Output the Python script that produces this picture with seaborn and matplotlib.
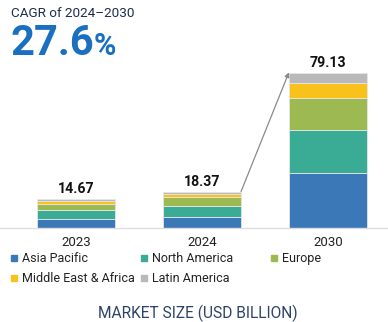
import matplotlib
matplotlib.use("Agg")
import matplotlib.pyplot as plt
from matplotlib.lines import Line2D
import seaborn as sns
import numpy as np
import pandas as pd

years = ["2023", "2024", "2030"]
totals = [14.67, 18.37, 79.13]
regions = ["Asia Pacific", "North America", "Europe", "Middle East & Africa", "Latin America"]
asia_pacific = [4.50, 5.75, 28.30]
north_america = [4.50, 5.55, 22.00]
europe = [3.25, 4.50, 16.40]
middle_east_africa = [1.40, 1.50, 7.30]
latin_america = [1.02, 1.07, 5.13]
colors = ["#3a78b8", "#3aab94", "#9dba52", "#f9c11b", "#b9b9b9"]

sns.set_theme(style="white")
plt.rcParams["font.family"] = ["Roboto", "DejaVu Sans"]

series = [asia_pacific, north_america, europe, middle_east_africa, latin_america]

fig = plt.figure(figsize=(3.88, 3.22), dpi=100)
ax = fig.add_axes([0, 94 / 322, 1, 176 / 322])

bottom = np.zeros(len(years))
for name, vals, col in zip(regions, series, colors):
    df = pd.DataFrame({"year": years, "value": vals})
    sns.barplot(data=df, x="year", y="value", color=col, bottom=bottom,
                width=0.62, ax=ax, edgecolor="#e6e6e6", linewidth=0.6,
                saturation=1)
    bottom = bottom + np.array(vals)

for i, t in enumerate(totals):
    ax.text(i, t + 1.6, f"{t:.2f}", ha="center", va="bottom",
            fontsize=10.2, fontweight="bold", color="#111111")

ax.set_xlim(-0.603, 2.476)
ax.set_ylim(0, 90)
ax.set_xlabel("")
ax.set_ylabel("")
ax.set_yticks([])
for s in ["top", "right", "left"]:
    ax.spines[s].set_visible(False)
ax.spines["bottom"].set_color("#dddddd")
ax.spines["bottom"].set_linewidth(1)
ax.tick_params(axis="x", length=0, pad=6, labelsize=9.5, labelcolor="#222222")

# arrow from 2024 top to 2030 top
ax.annotate("", xy=(2 - 0.31, totals[2] + 0.5), xytext=(1 + 0.31, totals[1] + 0.3),
            arrowprops=dict(arrowstyle="-|>", color="#8a8a8a", lw=0.9,
                            mutation_scale=7, shrinkA=0, shrinkB=0))

fig.text(11 / 388, 1 - 7 / 322, "CAGR of 2024\u20132030", ha="left", va="top",
         fontsize=9.7, color="#1f2d4e")
big = fig.text(11 / 388, 1 - 55 / 322, "27.6", ha="left", va="baseline",
               fontsize=30, fontweight="bold", color="#1a6fc1")
fig.canvas.draw()
bb = big.get_window_extent(renderer=fig.canvas.get_renderer())
fig.text((bb.x1 - 1) / 388, 1 - 55 / 322, "%", ha="left", va="baseline",
         fontsize=22, fontweight="bold", color="#1a6fc1")

# legend in three fixed columns
columns = [[0, 3], [1, 4], [2]]
col_x = [10 / 388, 140 / 388, 270 / 388]
for cx, idxs in zip(col_x, columns):
    handles = [Line2D([], [], marker="s", linestyle="", markersize=4.2,
                      markerfacecolor=colors[i], markeredgecolor=colors[i]) for i in idxs]
    labels = [regions[i] for i in idxs]
    fig.legend(handles, labels, ncol=1, loc="upper left",
               bbox_to_anchor=(cx, 1 - 252 / 322), frameon=False,
               fontsize=9.0, handlelength=0.6, handletextpad=0.35,
               labelspacing=0.55, borderaxespad=0, borderpad=0,
               labelcolor="#222222")

fig.text(0.51, 1 - 313 / 322, "MARKET SIZE (USD BILLION)", ha="center", va="center",
         fontsize=11.2, color="#2b4468")

fig.savefig("out.png", dpi=100)
